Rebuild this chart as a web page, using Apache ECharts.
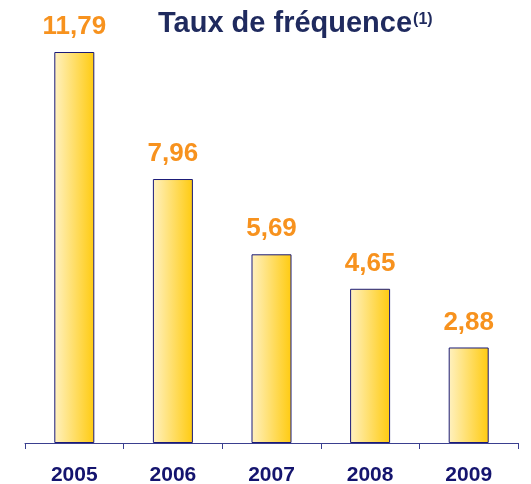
<!DOCTYPE html>
<html>
<head>
<meta charset="utf-8">
<script src="https://cdn.jsdelivr.net/npm/echarts@6/dist/echarts.min.js"></script>
<style>
  html, body { margin: 0; padding: 0; background: #fff; }
  #chart { width: 531px; height: 484px; }
</style>
</head>
<body>
<div id="chart"></div>
<script>
// données
var annees = ['2005', '2006', '2007', '2008', '2009'];
var taux = [11.79, 7.96, 5.69, 4.65, 2.88];

var myChart = echarts.init(document.getElementById('chart'));

var option = {
    animation: false,
    title: {
        text: 'Taux de fréquence{s|(1)}',
        left: 153,
        top: 4,
        textStyle: {
            fontFamily: 'Liberation Sans',
            fontSize: 29,
            fontWeight: 'bold',
            color: '#1F2A5E',
            rich: {
                s: {
                    fontFamily: 'Liberation Sans',
                    fontSize: 16,
                    fontWeight: 'bold',
                    color: '#1F2A5E',
                    verticalAlign: 'top',
                    padding: [3, 0, 0, 1]
                }
            }
        }
    },
    grid: { left: 25, right: 13, top: 52, bottom: 41, outerBoundsMode: 'none', containLabel: false },
    xAxis: {
        type: 'category',
        data: annees,
        axisLine: { lineStyle: { color: '#3A3F8F', width: 1 } },
        axisTick: { show: true, length: 6, lineStyle: { color: '#3A3F8F' } },
        axisLabel: {
            margin: 22,
            fontFamily: 'Liberation Sans',
            fontSize: 21,
            fontWeight: 'bold',
            color: '#14146E'
        }
    },
    yAxis: {
        type: 'value',
        min: 0,
        max: 11.79,
        show: false,
        splitLine: { show: false }
    },
    series: [{
        type: 'bar',
        data: taux,
        barWidth: 40,
        itemStyle: {
            borderColor: '#1A1A78',
            borderWidth: 1,
            color: new echarts.graphic.LinearGradient(0, 0, 1, 0, [
                { offset: 0, color: '#FFF1C0' },
                { offset: 1, color: '#FFCB10' }
            ])
        },
        label: {
            show: true,
            position: 'top',
            distance: 12,
            fontFamily: 'Liberation Sans',
            fontSize: 26,
            fontWeight: 'bold',
            color: '#F7921E',
            formatter: function (p) {
                return p.value.toFixed(2).replace('.', ',');
            }
        }
    }]
};

myChart.setOption(option);
</script>
</body>
</html>
